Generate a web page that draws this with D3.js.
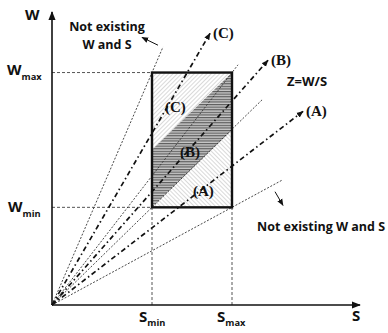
<!DOCTYPE html>
<html>
<head>
<meta charset="utf-8">
<script src="https://cdn.jsdelivr.net/npm/d3@7"></script>
<style>
  body { margin: 0; background: #fff; }
  .lbl { font-family: "Open Sans", Lato, sans-serif; font-weight: bold; fill: #111; }
  .zone { font-family: "Liberation Serif", "Times New Roman", serif; font-weight: bold; fill: #111; }
</style>
</head>
<body>
<svg id="chart" width="388" height="333"></svg>
<script>
// limites de la zone admissible
var sMin = 1, sMax = 1.8;
var wMin = 1, wMax = 2.38;

// frontieres des zones hachurees (W sur le bord gauche / droit)
var wCB = 1.59;   // C/B au bord S = Smin
var wBA = 1.79;   // B/A au bord S = Smax

// droites Z = W/S depuis l'origine: pente et S de fin
var rays = [
    { z: wMax / sMin, end: 1.11, type: "dot" },
    { z: 1.76, end: 1.58, type: "dashdot", name: "(C)" },
    { z: wMax / sMax, end: 1.86, type: "dot" },
    { z: 1.16, end: 2.16, type: "dashdot", name: "(B)" },
    { z: wMin / sMin, end: 2.11, type: "dot" },
    { z: 0.79, end: 2.51, type: "dashdot", name: "(A)" },
    { z: wMin / sMax, end: 2.30, type: "dot" }
];

var width = 388, height = 333;
var svg = d3.select("#chart");

var x = d3.scaleLinear().domain([0, 3.08]).range([52, 360]);
var y = d3.scaleLinear().domain([0, 3]).range([305, 12]);

var defs = svg.append("defs");

// hachures
defs.append("pattern").attr("id", "hatchC")
    .attr("patternUnits", "userSpaceOnUse").attr("width", 3).attr("height", 3)
    .attr("patternTransform", "rotate(45)")
  .append("line").attr("x1", 0).attr("y1", 0).attr("x2", 0).attr("y2", 3)
    .attr("stroke", "#aaa").attr("stroke-width", 0.9);

defs.append("pattern").attr("id", "hatchA")
    .attr("patternUnits", "userSpaceOnUse").attr("width", 3).attr("height", 3)
    .attr("patternTransform", "rotate(-45)")
  .append("line").attr("x1", 0).attr("y1", 0).attr("x2", 0).attr("y2", 3)
    .attr("stroke", "#aaa").attr("stroke-width", 0.9);

var pB = defs.append("pattern").attr("id", "hatchB")
    .attr("patternUnits", "userSpaceOnUse").attr("width", 4).attr("height", 2.6);
pB.append("rect").attr("width", 4).attr("height", 2.6).attr("fill", "#c8c8c8");
pB.append("line").attr("x1", 0).attr("y1", 0.6).attr("x2", 4).attr("y2", 0.6)
    .attr("stroke", "#555").attr("stroke-width", 1.1);

// fleches
function marker(id, size) {
    defs.append("marker").attr("id", id)
        .attr("viewBox", "0 0 10 10").attr("refX", 9).attr("refY", 5)
        .attr("markerUnits", "userSpaceOnUse")
        .attr("markerWidth", size).attr("markerHeight", size)
        .attr("orient", "auto")
      .append("path").attr("d", "M0,1 L10,5 L0,9 Z").attr("fill", "#111");
}
marker("arrowAxis", 9);
marker("arrowSmall", 7);

var line = d3.line().x(function (d) { return x(d[0]); }).y(function (d) { return y(d[1]); });

// zones
var zones = [
    { fill: "url(#hatchC)", pts: [[sMin, wMax], [sMax, wMax], [sMin, wCB]] },
    { fill: "url(#hatchB)", pts: [[sMax, wMax], [sMax, wBA], [sMin, wMin], [sMin, wCB]] },
    { fill: "url(#hatchA)", pts: [[sMin, wMin], [sMax, wMin], [sMax, wBA]] }
];
svg.selectAll(".zone-area").data(zones).enter().append("path")
    .attr("class", "zone-area")
    .attr("d", function (d) { return line(d.pts) + "Z"; })
    .attr("fill", function (d) { return d.fill; });

// lignes de rappel
var guides = [
    [[0, wMax], [sMin, wMax]],
    [[0, wMin], [sMin, wMin]],
    [[sMin, 0], [sMin, wMin]],
    [[sMax, 0], [sMax, wMin]]
];
svg.selectAll(".guide").data(guides).enter().append("path")
    .attr("class", "guide")
    .attr("d", line)
    .attr("fill", "none").attr("stroke", "#555")
    .attr("stroke-width", 1).attr("stroke-dasharray", "3,2");

// rayons
svg.selectAll(".ray").data(rays).enter().append("path")
    .attr("class", "ray")
    .attr("d", function (d) { return line([[0, 0], [d.end, d.z * d.end]]); })
    .attr("fill", "none")
    .attr("stroke", function (d) { return d.type == "dot" ? "#333" : "#111"; })
    .attr("stroke-width", function (d) { return d.type == "dot" ? 0.9 : 1.7; })
    .attr("stroke-dasharray", function (d) { return d.type == "dot" ? "2,1.6" : "5,3,1.5,3"; })
    .attr("marker-end", function (d) { return d.type == "dot" ? null : "url(#arrowSmall)"; });

// rectangle
svg.append("rect")
    .attr("x", x(sMin)).attr("y", y(wMax))
    .attr("width", x(sMax) - x(sMin)).attr("height", y(wMin) - y(wMax))
    .attr("fill", "none").attr("stroke", "#111").attr("stroke-width", 2.4);

// axes
svg.append("path").attr("d", line([[0, 0], [0, 3]]))
    .attr("stroke", "#111").attr("stroke-width", 1.6).attr("marker-end", "url(#arrowAxis)");
svg.append("path").attr("d", line([[0, 0], [3.08, 0]]))
    .attr("stroke", "#111").attr("stroke-width", 1.6).attr("marker-end", "url(#arrowAxis)");

// fleches des annotations
var notes = [
    [[1.06, 2.66], [0.90, 2.74]],
    [[2.23, 1.16], [2.31, 1.02]]
];
svg.selectAll(".note").data(notes).enter().append("path")
    .attr("class", "note")
    .attr("d", line)
    .attr("stroke", "#111").attr("stroke-width", 1)
    .attr("marker-end", "url(#arrowSmall)");

// textes
function sub(tx, ty, main, subTxt, size, shift) {
    var t = svg.append("text").attr("class", "lbl").attr("x", tx).attr("y", ty)
        .style("font-size", size + "px");
    t.append("tspan").text(main);
    t.append("tspan").attr("dy", shift).style("font-size", (size * 0.62) + "px").text(subTxt);
}
svg.append("text").attr("class", "lbl").attr("x", 25).attr("y", 20)
    .style("font-size", "15px").text("W");
sub(7, 75, "W", "max", 15, 5);
sub(8, 212, "W", "min", 15, 5);
sub(139, 322, "S", "min", 15, 4);
sub(217, 322, "S", "max", 15, 4);
svg.append("text").attr("class", "lbl").attr("x", 352).attr("y", 321)
    .style("font-size", "15px").text("S");

svg.append("text").attr("class", "lbl").attr("x", 107).attr("y", 31)
    .attr("text-anchor", "middle").style("font-size", "12.5px").text("Not existing");
svg.append("text").attr("class", "lbl").attr("x", 107).attr("y", 49)
    .attr("text-anchor", "middle").style("font-size", "12.5px").text("W and S");
svg.append("text").attr("class", "lbl").attr("x", 257).attr("y", 231)
    .style("font-size", "12.5px").text("Not existing W and S");
svg.append("text").attr("class", "lbl").attr("x", 287).attr("y", 86)
    .style("font-size", "13px").text("Z=W/S");

// noms des droites au bout des fleches
svg.selectAll(".rayname").data(rays.filter(function (d) { return d.name; })).enter().append("text")
    .attr("class", "zone")
    .attr("x", function (d) { return x(d.end) + 3; })
    .attr("y", function (d) { return y(d.z * d.end) + 5; })
    .style("font-size", "15px")
    .text(function (d) { return d.name; });

// noms des zones
var zoneNames = [
    { name: "(C)", s: 1.13, w: 1.98 },
    { name: "(B)", s: 1.28, w: 1.52 },
    { name: "(A)", s: 1.41, w: 1.12 }
];
svg.selectAll(".zonename").data(zoneNames).enter().append("text")
    .attr("class", "zone")
    .attr("x", function (d) { return x(d.s); })
    .attr("y", function (d) { return y(d.w); })
    .style("font-size", "15px")
    .text(function (d) { return d.name; });
</script>
</body>
</html>
